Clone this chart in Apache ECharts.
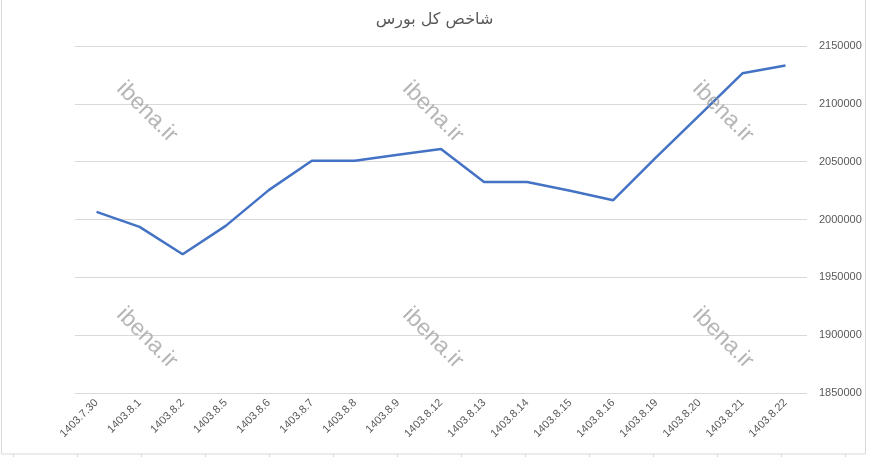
<!DOCTYPE html>
<html>
<head>
<meta charset="utf-8">
<script src="https://cdn.jsdelivr.net/npm/echarts@6/dist/echarts.min.js"></script>
<style>
html,body{margin:0;padding:0;background:#fff;}
#chart{width:869px;height:457px;}
</style>
</head>
<body>
<div id="chart"></div>
<script>
const titleText = 'شاخص کل بورس';
const categories = ['1403.7.30','1403.8.1','1403.8.2','1403.8.5','1403.8.6','1403.8.7','1403.8.8','1403.8.9','1403.8.12','1403.8.13','1403.8.14','1403.8.15','1403.8.16','1403.8.19','1403.8.20','1403.8.21','1403.8.22'];
const indexValues = [2006600,1993600,1970000,1994500,2025400,2050800,2050800,2056000,2060900,2032500,2032500,2024800,2016700,2054000,2090000,2126400,2133100];
const yMin = 1850000, yMax = 2150000, yStep = 50000;
const watermark = 'ibena.ir';

const chart = echarts.init(document.getElementById('chart'), null, {renderer:'canvas'});

const wmPos = [[147,112],[433,112],[723,112],[147,338],[433,338],[723,338]];
const graphics = [
  {type:'rect', shape:{x:1.5,y:-2,width:864,height:456}, style:{fill:null, stroke:'#d9d9d9', lineWidth:1}, silent:true, z:-1}
];
for (let x = 13.5; x < 869; x += 64) {
  graphics.push({type:'line', shape:{x1:x,y1:454,x2:x,y2:457}, style:{stroke:'#d9d9d9',lineWidth:1}, silent:true});
}
wmPos.forEach(p => {
  graphics.push({type:'text', x:p[0], y:p[1], rotation:-Math.PI/4, silent:true, z:10,
    style:{text:watermark, fill:'rgba(150,150,150,0.7)', font:'23px "Liberation Sans", Arial, sans-serif', align:'center', verticalAlign:'middle'}});
});

chart.setOption({
  animation:false,
  backgroundColor:'#ffffff',
  title:{text:titleText, left:'center', top:7, textStyle:{fontFamily:'"DejaVu Sans", sans-serif', fontSize:16, fontWeight:'normal', color:'#595959'}},
  grid:{left:75, right:62, top:46, bottom:64},
  xAxis:{
    type:'category', data:categories, boundaryGap:true,
    axisLine:{show:false}, axisTick:{show:false},
    axisLabel:{rotate:45, margin:8, fontSize:11, color:'#595959', fontFamily:'"Liberation Sans", Arial, sans-serif', interval:0}
  },
  yAxis:{
    type:'value', position:'right', min:yMin, max:yMax, interval:yStep,
    axisLine:{show:false}, axisTick:{show:false},
    axisLabel:{margin:12, fontSize:11, color:'#595959', fontFamily:'"Liberation Sans", Arial, sans-serif', formatter:v => String(v)},
    splitLine:{lineStyle:{color:'#d9d9d9', width:1}}
  },
  series:[{
    type:'line', data:indexValues, symbol:'none', smooth:false,
    lineStyle:{color:'#4472C4', width:2.5}
  }],
  graphic:graphics
});
</script>
</body>
</html>
